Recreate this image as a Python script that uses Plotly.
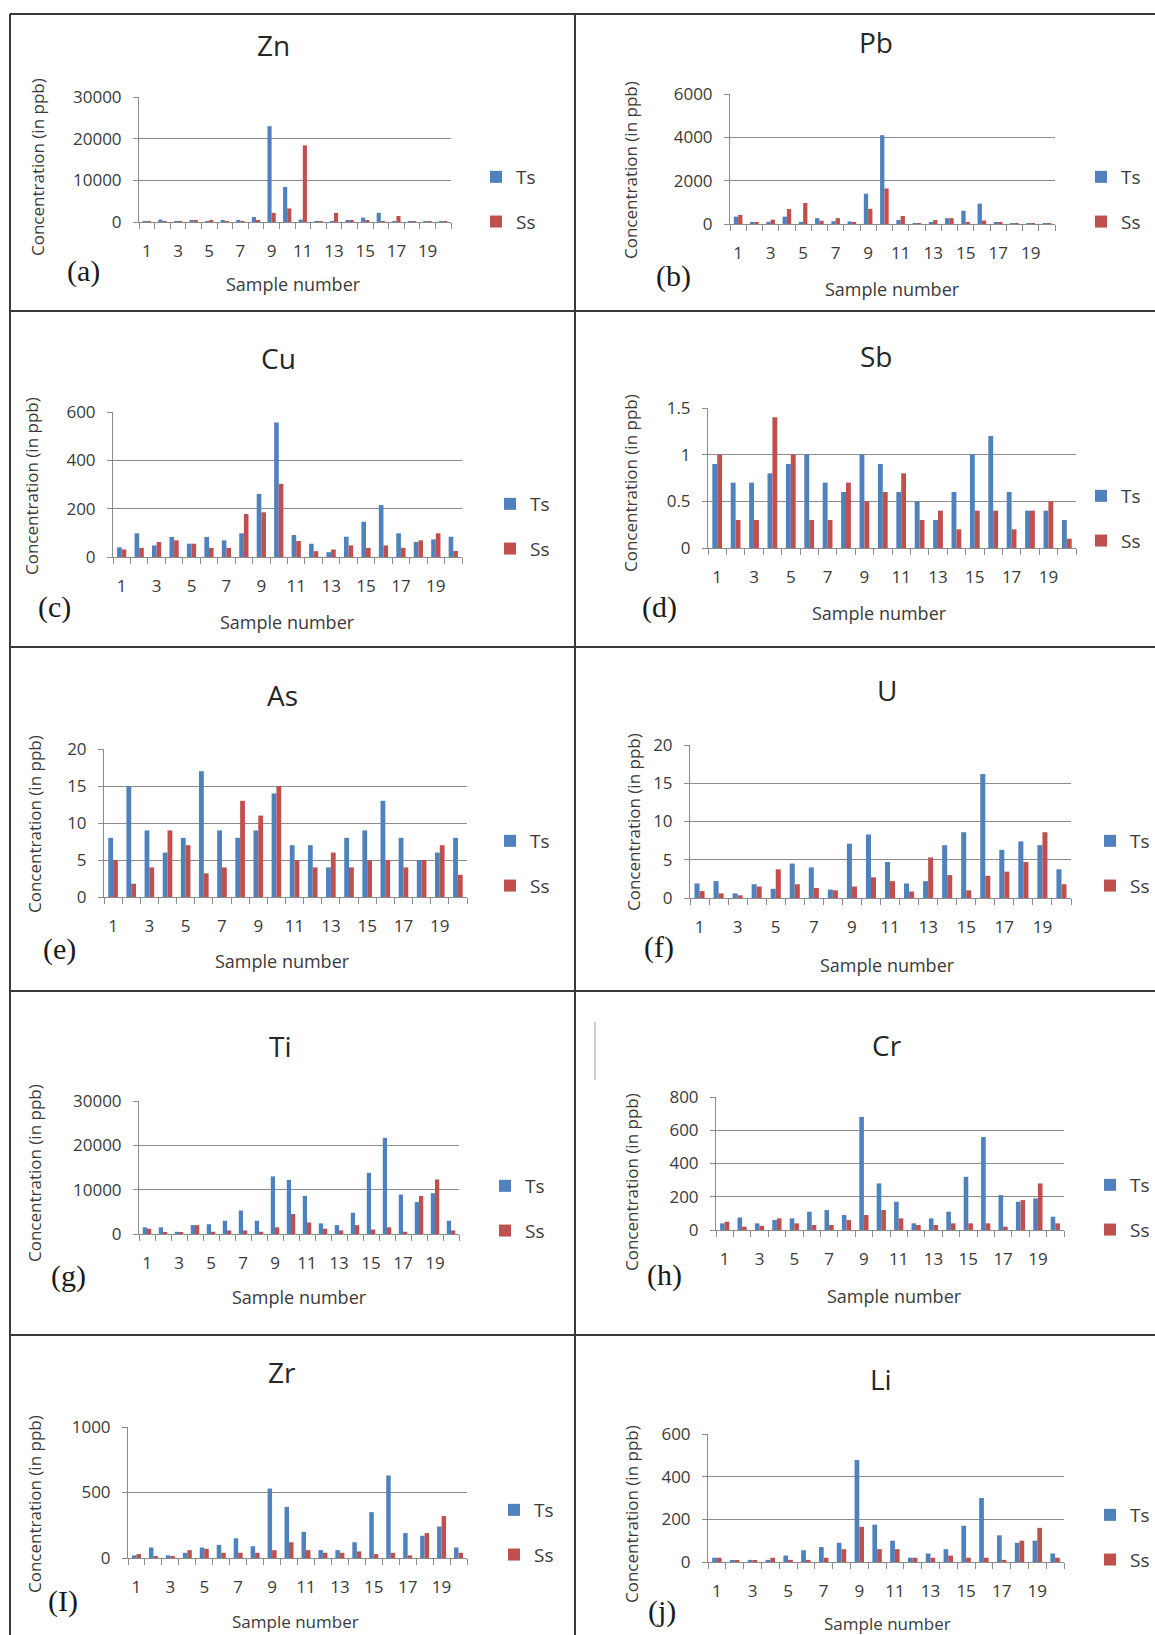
import plotly.graph_objects as go

W, H = 1155, 1635

# ---------------- data ----------------
samples = list(range(1, 21))
tick_samples = samples[::2]
tick_labels = [str(s) for s in tick_samples]

zn_ts = [100, 570, 100, 500, 100, 500, 500, 1200, 23000, 8400, 570, 100, 100, 500, 1050, 2200, 100, 100, 100, 100]
zn_ss = [100, 100, 100, 500, 500, 150, 100, 500, 2200, 3250, 18400, 100, 2200, 500, 250, 100, 1450, 100, 100, 100]

pb_ts = [340, 100, 100, 340, 100, 270, 130, 120, 1400, 4100, 190, 20, 50, 270, 610, 940, 80, 20, 20, 20]
pb_ss = [420, 50, 200, 690, 970, 150, 270, 50, 700, 1640, 370, 20, 180, 270, 50, 160, 80, 20, 20, 20]

cu_ts = [40, 98, 48, 83, 55, 83, 69, 98, 261, 557, 91, 55, 20, 84, 146, 215, 98, 62, 73, 84]
cu_ss = [31, 38, 62, 69, 55, 38, 38, 178, 185, 303, 66, 24, 31, 48, 38, 48, 38, 69, 98, 25]

sb_ts = [0.9, 0.7, 0.7, 0.8, 0.9, 1.0, 0.7, 0.6, 1.0, 0.9, 0.6, 0.5, 0.3, 0.6, 1.0, 1.2, 0.6, 0.4, 0.4, 0.3]
sb_ss = [1.0, 0.3, 0.3, 1.4, 1.0, 0.3, 0.3, 0.7, 0.5, 0.6, 0.8, 0.3, 0.4, 0.2, 0.4, 0.4, 0.2, 0.4, 0.5, 0.1]

as_ts = [8, 15, 9, 6, 8, 17, 9, 8, 9, 14, 7, 7, 4, 8, 9, 13, 8, 5, 6, 8]
as_ss = [5, 1.8, 4, 9, 7, 3.2, 4, 13, 11, 15, 5, 4, 6, 4, 5, 5, 4, 5, 7, 3]

u_ts = [1.9, 2.2, 0.6, 1.8, 1.2, 4.5, 4.0, 1.1, 7.1, 8.3, 4.7, 1.9, 2.2, 6.9, 8.6, 16.2, 6.3, 7.4, 6.9, 3.75]
u_ss = [0.9, 0.6, 0.35, 1.5, 3.75, 1.8, 1.3, 1.0, 1.5, 2.7, 2.2, 0.85, 5.3, 3.0, 1.0, 2.9, 3.45, 4.7, 8.6, 1.8]

ti_ts = [1500, 1500, 500, 2000, 2200, 3000, 5300, 3000, 13000, 12200, 8600, 2400, 2000, 4800, 13800, 21700, 8900, 7200, 9200, 3000]
ti_ss = [1200, 300, 300, 2000, 500, 800, 800, 500, 1500, 4500, 2600, 1200, 800, 2000, 1000, 1500, 500, 8600, 12300, 800]

cr_ts = [40, 75, 40, 60, 70, 110, 120, 90, 680, 280, 170, 40, 70, 110, 320, 560, 210, 170, 190, 80]
cr_ss = [50, 20, 25, 70, 40, 30, 30, 60, 90, 120, 70, 30, 30, 40, 40, 40, 20, 180, 280, 40]

zr_ts = [20, 80, 20, 40, 80, 100, 150, 90, 530, 390, 200, 60, 60, 120, 350, 630, 190, 170, 240, 80]
zr_ss = [30, 15, 10, 60, 70, 40, 40, 40, 60, 120, 60, 40, 40, 50, 30, 40, 20, 190, 320, 40]

li_ts = [20, 5, 10, 10, 30, 55, 70, 90, 478, 175, 100, 20, 40, 60, 170, 300, 125, 90, 100, 40]
li_ss = [20, 5, 5, 20, 10, 10, 20, 60, 165, 60, 60, 20, 20, 30, 20, 20, 10, 100, 160, 20]

elements = ["Zn", "Pb", "Cu", "Sb", "As", "U", "Ti", "Cr", "Zr", "Li"]
tags = ["(a)", "(b)", "(c)", "(d)", "(e)", "(f)", "(g)", "(h)", "(I)", "(j)"]
ts_data = [zn_ts, pb_ts, cu_ts, sb_ts, as_ts, u_ts, ti_ts, cr_ts, zr_ts, li_ts]
ss_data = [zn_ss, pb_ss, cu_ss, sb_ss, as_ss, u_ss, ti_ss, cr_ss, zr_ss, li_ss]
y_max = [30000, 6000, 600, 1.5, 20, 20, 30000, 800, 1000, 600]
y_step = [10000, 2000, 200, 0.5, 5, 5, 10000, 200, 500, 200]

# ---------------- geometry (pixels) ----------------
plot_box = [(139, 451, 97, 222), (730, 1055, 94, 224),
            (113, 462, 412, 557), (708, 1076, 408, 548),
            (104, 467, 749, 897), (690, 1071, 745, 898),
            (139, 459, 1101, 1234), (716, 1064, 1097, 1230),
            (128, 467, 1427, 1558), (708, 1064, 1434, 1562)]
title_pos = [(273, 45), (876, 42), (278, 358), (876, 356), (282, 695),
             (887, 690), (280, 1046), (887, 1045), (282, 1372), (881, 1379)]
ytitle_pos = [(37, 167), (631, 170), (31, 486), (631, 483), (34, 824),
              (633, 822), (34, 1173), (631, 1182), (34, 1504), (631, 1514)]
xtitle_pos = [(294, 284), (892, 289), (287, 622), (879, 613), (282, 961),
              (887, 965), (299, 1297), (894, 1296), (295, 1621), (887, 1623)]
tag_pos = [(83, 271), (673, 276), (54, 607), (659, 607), (59, 949),
           (659, 947), (68, 1276), (664, 1275), (63, 1601), (662, 1611)]
legend_pos = [(490, 177), (1095, 177), (504, 504), (1095, 496), (504, 841),
              (1104, 841), (499, 1186), (1104, 1185), (508, 1510), (1104, 1515)]

BLUE = "#4F81BD"
RED = "#C0504D"
GRID = "#8C8C8C"
TXT = "#3a3a3a"
FONT = "Open Sans"

fig = go.Figure()
layout = dict(
    width=W, height=H, autosize=False,
    margin=dict(l=0, r=0, t=0, b=0, pad=0, autoexpand=False),
    paper_bgcolor="white", plot_bgcolor="white",
    barmode="group", bargap=0.47, bargroupgap=0,
    font=dict(family=FONT, color=TXT),
)
annotations = []
shapes = []

for i in range(10):
    n = i + 1
    xa = "x" if n == 1 else f"x{n}"
    ya = "y" if n == 1 else f"y{n}"
    lg = "legend" if n == 1 else f"legend{n}"
    fig.add_trace(go.Bar(x=samples, y=ts_data[i], name="Ts", marker=dict(color=BLUE, line=dict(width=0)),
                         xaxis=xa, yaxis=ya, legend=lg, legendgroup=f"g{n}ts"))
    fig.add_trace(go.Bar(x=samples, y=ss_data[i], name="Ss", marker=dict(color=RED, line=dict(width=0)),
                         xaxis=xa, yaxis=ya, legend=lg, legendgroup=f"g{n}ss"))
    x0, x1, yt, yb = plot_box[i]
    layout["xaxis" if n == 1 else f"xaxis{n}"] = dict(
        domain=[x0 / W, x1 / W], anchor=ya, type="linear", automargin=False,
        range=[samples[0] - 0.5, samples[-1] + 0.5],
        tickmode="array", tickvals=tick_samples, ticktext=tick_labels,
        ticks="", ticklabelstandoff=14,
        tickfont=dict(family=FONT, size=17, color=TXT),
        showline=True, linecolor=GRID, linewidth=1, showgrid=False, zeroline=False,
        minor=dict(tick0=0.5, dtick=1, ticks="outside", ticklen=6, tickcolor=GRID, tickwidth=1, showgrid=False),
        fixedrange=True,
    )
    layout["yaxis" if n == 1 else f"yaxis{n}"] = dict(
        domain=[1 - yb / H, 1 - yt / H], anchor=xa, automargin=False,
        range=[0, y_max[i]], dtick=y_step[i], tick0=0,
        tickformat=("" if y_step[i] < 1 else "d"),
        ticks="outside", ticklen=5, tickcolor=GRID, ticklabelstandoff=8,
        tickfont=dict(family=FONT, size=17, color=TXT),
        showline=True, linecolor=GRID, linewidth=1,
        showgrid=True, gridcolor=GRID, gridwidth=1, zeroline=False,
        fixedrange=True,
    )
    lx, ly = legend_pos[i]
    layout[lg] = dict(x=(lx - 14) / W, y=1 - (ly - 19) / H, xanchor="left", yanchor="top",
                      traceorder="grouped", tracegroupgap=17, bgcolor="rgba(0,0,0,0)",
                      font=dict(family=FONT, size=19, color=TXT), itemclick=False, itemdoubleclick=False)
    tx, ty = title_pos[i]
    annotations.append(dict(text=elements[i], x=tx / W, y=1 - ty / H, xref="paper", yref="paper",
                            showarrow=False, xanchor="center", yanchor="middle",
                            font=dict(family=FONT, size=28, color="#262626")))
    yx, yy = ytitle_pos[i]
    annotations.append(dict(text="Concentration (in ppb)", x=yx / W, y=1 - yy / H, xref="paper", yref="paper",
                            showarrow=False, textangle=-90, xanchor="center", yanchor="middle",
                            font=dict(family=FONT, size=17, color=TXT)))
    sx, sy = xtitle_pos[i]
    annotations.append(dict(text="Sample number", x=sx / W, y=1 - sy / H, xref="paper", yref="paper",
                            showarrow=False, xanchor="center", yanchor="middle",
                            font=dict(family=FONT, size=(17 if n >= 9 else 18), color=TXT)))
    gx, gy = tag_pos[i]
    annotations.append(dict(text=tags[i], x=gx / W, y=1 - gy / H, xref="paper", yref="paper",
                            showarrow=False, xanchor="center", yanchor="middle",
                            font=dict(family="Liberation Serif", size=30, color="#1a1a1a")))

# panel frame lines
BORDER = dict(color="#3a3a3a", width=2)
def hline(y, xa=10, xb=W):
    shapes.append(dict(type="line", xref="paper", yref="paper", x0=xa / W, x1=xb / W,
                       y0=1 - y / H, y1=1 - y / H, line=BORDER))
def vline(x, ya, yb, line=BORDER):
    shapes.append(dict(type="line", xref="paper", yref="paper", x0=x / W, x1=x / W,
                       y0=1 - ya / H, y1=1 - yb / H, line=line))
for yy in [14, 311, 647, 991, 1335]:
    hline(yy)
vline(10, 14, H)
vline(575, 14, H)
vline(595, 1022, 1080, dict(color="#9a9a9a", width=1))

layout["annotations"] = annotations
layout["shapes"] = shapes
fig.update_layout(**layout)
fig.write_html("out.html", config={"displayModeBar": False, "responsive": False},
               post_script="document.body.style.margin='0px';document.body.style.padding='0px';"
                           "document.body.style.overflow='hidden';")
